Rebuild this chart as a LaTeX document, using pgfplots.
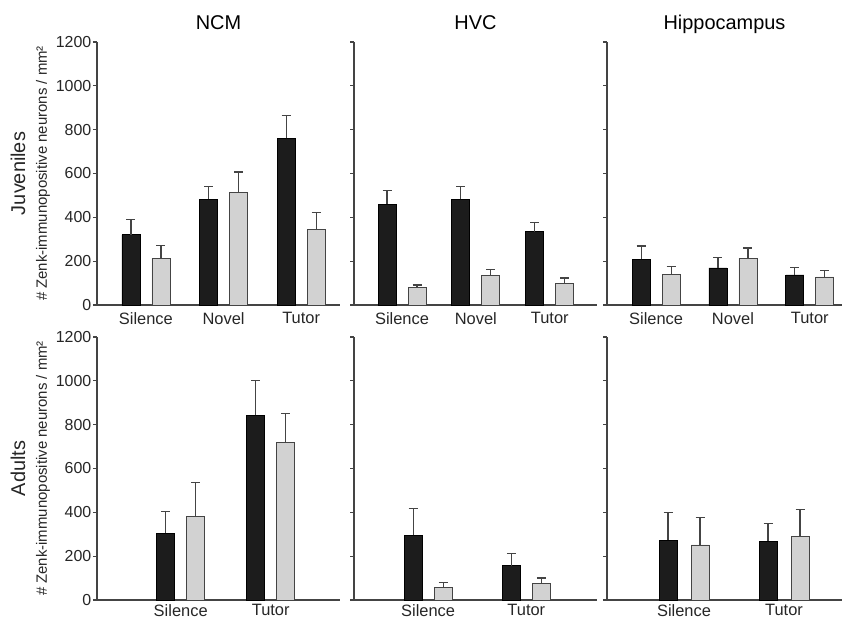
\documentclass[border=0pt]{standalone}
\usepackage{fontspec}
\setmainfont{Liberation Sans}
\usepackage{pgfplots}
\pgfplotsset{compat=1.18}
\definecolor{darkbar}{HTML}{1C1C1C}
\definecolor{lightbar}{HTML}{D2D2D2}
\definecolor{axcol}{HTML}{444444}

\tikzset{rowlab/.style={rotate=90, font=\fontsize{20}{20}\selectfont, text=black!85}}

\pgfplotsset{
  panel/.style={
    scale only axis, height=263bp, ymin=0, ymax=1200,
    ybar=12bp, bar width=18bp,
    ytick={0,200,...,1200},
    axis lines*=left,
    axis line style={axcol, line width=1.3bp},
    tick align=outside, major tick length=4bp,
    ytick style={axcol, line width=1.1bp},
    xtick style={draw=none},
    yticklabel style={font=\fontsize{16}{16}\selectfont, text=black!85, inner sep=1.5bp},
    xticklabel style={font=\fontsize{16.5}{16.5}\selectfont, text=black!85, inner sep=1bp, yshift=-2bp},
    /pgf/number format/assume math mode=true,
    /pgf/number format/1000 sep={},
    title style={font=\fontsize{20}{20}\selectfont, anchor=base, yshift=7bp},
    ylabel style={font=\fontsize{15}{15}\selectfont, text=black!85, at={(axis description cs:-0.222,0.5)}, anchor=center},
    error bars/y dir=plus, error bars/y explicit,
    error bars/error bar style={axcol, line width=1.2bp},
    error bars/error mark options={rotate=90, axcol, line width=1.2bp, mark size=4.5bp},
    clip=false,
  },
  nolab/.style={yticklabels={}},
  lower/.style={xticklabel style={yshift=3bp}},
  dk/.style={fill=darkbar, draw=black, line width=0.8bp},
  lt/.style={fill=lightbar, draw=axcol, line width=0.8bp},
}

\begin{document}
\begin{tikzpicture}
\path[use as bounding box] (0,0) rectangle (842bp,-618bp);

% ---------- Juveniles ----------
\begin{axis}[panel, at={(97bp,-305bp)}, anchor=south west, width=243bp,
    xmin=-0.63, xmax=2.5, xtick={0,1,2}, xticklabels={Silence,Novel,Tutor},
    title={NCM}, ylabel={\# Zenk-immunopositive neurons / mm²}]
  \addplot[dk] coordinates {(0,320) +- (0,70) (1,482) +- (0,60) (2,760) +- (0,106)};
  \addplot[lt] coordinates {(0,213) +- (0,57) (1,512) +- (0,95) (2,346) +- (0,76)};
  \node[rowlab] at (axis description cs:-0.325,0.5) {Juveniles};
\end{axis}

\begin{axis}[panel, nolab, at={(354bp,-305bp)}, anchor=south west, width=243bp,
    xmin=-0.65, xmax=2.64, xtick={0,1,2}, xticklabels={Silence,Novel,Tutor},
    title={HVC}]
  \addplot[dk] coordinates {(0,460) +- (0,64) (1,482) +- (0,60) (2,334) +- (0,44)};
  \addplot[lt] coordinates {(0,79) +- (0,12) (1,135) +- (0,28) (2,99) +- (0,24)};
\end{axis}

\begin{axis}[panel, nolab, at={(607bp,-305bp)}, anchor=south west, width=235bp,
    xmin=-0.64, xmax=2.42, xtick={0,1,2}, xticklabels={Silence,Novel,Tutor},
    title={Hippocampus}]
  \addplot[dk] coordinates {(0,208) +- (0,61) (1,169) +- (0,47) (2,137) +- (0,33)};
  \addplot[lt] coordinates {(0,138) +- (0,37) (1,214) +- (0,46) (2,128) +- (0,30)};
\end{axis}

% ---------- Adults ----------
\begin{axis}[panel, lower, at={(97bp,-600bp)}, anchor=south west, width=243bp,
    xmin=-0.93, xmax=1.77, xtick={0,1}, xticklabels={Silence,Tutor},
    ylabel={\# Zenk-immunopositive neurons / mm²}]
  \addplot[dk] coordinates {(0,304) +- (0,100) (1,842) +- (0,161)};
  \addplot[lt] coordinates {(0,383) +- (0,153) (1,718) +- (0,134)};
  \node[rowlab] at (axis description cs:-0.325,0.5) {Adults};
\end{axis}

\begin{axis}[panel, nolab, lower, at={(354bp,-600bp)}, anchor=south west, width=243bp,
    xmin=-0.755, xmax=1.72, xtick={0,1}, xticklabels={Silence,Tutor}]
  \addplot[dk] coordinates {(0,296) +- (0,122) (1,156) +- (0,58)};
  \addplot[lt] coordinates {(0,59) +- (0,20) (1,77) +- (0,23)};
\end{axis}

\begin{axis}[panel, nolab, lower, at={(607bp,-600bp)}, anchor=south west, width=235bp,
    ybar=14bp,
    xmin=-0.77, xmax=1.58, xtick={0,1}, xticklabels={Silence,Tutor}]
  \addplot[dk] coordinates {(0,273) +- (0,127) (1,269) +- (0,80)};
  \addplot[lt] coordinates {(0,251) +- (0,126) (1,290) +- (0,123)};
\end{axis}
\end{tikzpicture}
\end{document}
